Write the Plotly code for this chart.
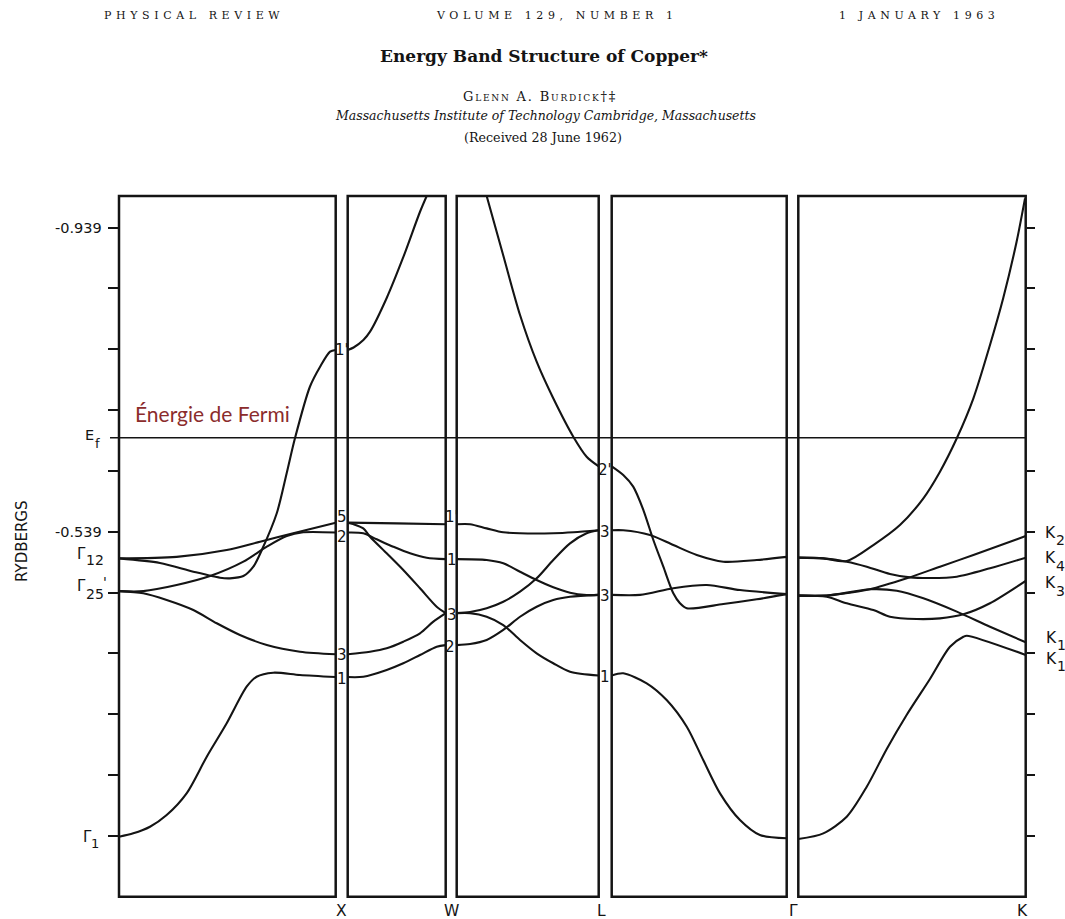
import plotly.graph_objects as go

W, H = 1065, 919

# ---------------- data (energies in Rydbergs, k = fraction along each segment) ----------------
Y_TICKS = [0.139, 0.219, 0.299, 0.379, 0.459, 0.539, 0.619, 0.699, 0.779, 0.859, 0.939]
E_FERMI = 0.6627
Y_RANGE = [0.0592, 0.9805]

# Gamma -> X
GX_K_A = [0, 0.266, 0.497, 0.651, 0.804, 1.0]
GX_E_A = [0.504, 0.506, 0.515, 0.526, 0.537, 0.551]
GX_K_B = [0, 0.189, 0.343, 0.466, 0.512, 0.574, 0.620, 0.659, 0.728, 0.774, 0.812, 0.881, 0.928, 0.974, 1.0]
GX_E_B = [0.504, 0.498, 0.4865, 0.4786, 0.4778, 0.4808, 0.4931, 0.515, 0.5633, 0.6163, 0.6619, 0.7297, 0.756, 0.7758, 0.778]
GX_K_C = [0, 0.112, 0.266, 0.420, 0.574, 0.682, 0.774, 0.850, 1.0]
GX_E_C = [0.461, 0.461, 0.469, 0.4808, 0.4997, 0.5194, 0.5334, 0.5383, 0.538]
GX_K_D = [0, 0.112, 0.220, 0.343, 0.451, 0.558, 0.682, 0.835, 1.0]
GX_E_D = [0.461, 0.4581, 0.4493, 0.4361, 0.4187, 0.4033, 0.3901, 0.3813, 0.378]
GX_K_E = [0, 0.066, 0.143, 0.220, 0.312, 0.405, 0.497, 0.589, 0.635, 0.712, 0.835, 1.0]
GX_E_E = [0.138, 0.1425, 0.1512, 0.1666, 0.1951, 0.2433, 0.2872, 0.3353, 0.3484, 0.3537, 0.3507, 0.348]

# X -> W
XW_K_1 = [0, 0.06, 0.16, 0.228, 0.398, 0.564, 0.738, 0.806]
XW_E_1 = [0.778, 0.7813, 0.7911, 0.8021, 0.8464, 0.899, 0.9598, 0.9805]
XW_K_2 = [0, 0.5, 1.0]
XW_E_2 = [0.551, 0.550, 0.549]
XW_K_3 = [0, 0.054, 0.159, 0.228, 0.398, 0.567, 0.738, 0.908, 1.0]
XW_E_3 = [0.551, 0.5492, 0.5435, 0.5325, 0.5107, 0.4887, 0.4647, 0.4405, 0.432]
XW_K_4 = [0, 0.159, 0.296, 0.465, 0.636, 0.806, 1.0]
XW_E_4 = [0.538, 0.537, 0.5291, 0.5194, 0.5107, 0.5049, 0.503]
XW_K_5 = [0, 0.228, 0.398, 0.567, 0.738, 0.874, 1.0]
XW_E_5 = [0.378, 0.3813, 0.3858, 0.3945, 0.4055, 0.4208, 0.432]
XW_K_6 = [0, 0.159, 0.398, 0.567, 0.738, 0.908, 1.0]
XW_E_6 = [0.348, 0.3484, 0.3573, 0.3661, 0.377, 0.3879, 0.390]

# W -> L
WL_K_1 = [0.211, 0.328, 0.446, 0.563, 0.680, 0.821, 0.915, 1.0]
WL_E_1 = [0.9805, 0.9022, 0.824, 0.7626, 0.7145, 0.664, 0.6377, 0.625]
WL_K_2 = [0, 0.094, 0.211, 0.328, 0.446, 0.681, 0.823, 1.0]
WL_E_2 = [0.549, 0.549, 0.5435, 0.5383, 0.537, 0.537, 0.5383, 0.541]
WL_K_3 = [0, 0.211, 0.328, 0.446, 0.563, 0.680, 0.798, 0.915, 1.0]
WL_E_3 = [0.503, 0.5019, 0.4976, 0.4865, 0.4756, 0.466, 0.4589, 0.4559, 0.456]
WL_K_4 = [0, 0.094, 0.211, 0.328, 0.446, 0.563, 0.680, 0.798, 0.915, 1.0]
WL_E_4 = [0.432, 0.4335, 0.4384, 0.447, 0.4602, 0.4778, 0.5019, 0.5238, 0.537, 0.541]
WL_K_5 = [0, 0.094, 0.211, 0.328, 0.446, 0.563, 0.680, 0.798, 1.0]
WL_E_5 = [0.432, 0.432, 0.4273, 0.4164, 0.3967, 0.3792, 0.3661, 0.355, 0.350]
WL_K_6 = [0, 0.094, 0.211, 0.328, 0.446, 0.563, 0.680, 0.798, 1.0]
WL_E_6 = [0.390, 0.3914, 0.3967, 0.4099, 0.4273, 0.4405, 0.4493, 0.4536, 0.456]

# L -> Gamma
LG_K_1 = [0, 0.066, 0.123, 0.181, 0.238, 0.295, 0.352, 0.390, 0.429, 0.638, 0.829, 1.0]
LG_E_1 = [0.625, 0.6136, 0.5983, 0.5676, 0.5282, 0.4931, 0.4581, 0.445, 0.4384, 0.444, 0.4502, 0.457]
LG_K_2 = [0, 0.066, 0.219, 0.352, 0.486, 0.638, 0.829, 1.0]
LG_E_2 = [0.541, 0.541, 0.5348, 0.5216, 0.5085, 0.4997, 0.5019, 0.506]
LG_K_3 = [0, 0.162, 0.352, 0.543, 0.733, 1.0]
LG_E_3 = [0.456, 0.456, 0.4647, 0.469, 0.4624, 0.457]
LG_K_4 = [0, 0.066, 0.2, 0.314, 0.429, 0.523, 0.619, 0.733, 0.847, 1.0]
LG_E_4 = [0.350, 0.3529, 0.3398, 0.3178, 0.2827, 0.2389, 0.1951, 0.160, 0.1403, 0.136]

# Gamma -> K
GK_K_1 = [0, 0.110, 0.213, 0.330, 0.447, 0.550, 0.623, 0.697, 0.770, 0.843, 0.901, 0.960, 0.997]
GK_E_1 = [0.505, 0.5041, 0.5006, 0.5216, 0.5479, 0.583, 0.618, 0.6619, 0.7145, 0.7846, 0.846, 0.9204, 0.9774]
GK_K_2 = [0, 0.110, 0.213, 0.301, 0.403, 0.491, 0.579, 0.697, 0.843, 1.0]
GK_E_2 = [0.505, 0.5041, 0.4997, 0.4931, 0.4835, 0.4791, 0.4782, 0.4799, 0.491, 0.505]
GK_K_3 = [0, 0.110, 0.183, 0.315, 0.477, 0.623, 0.770, 1.0]
GK_E_3 = [0.455, 0.455, 0.4572, 0.4634, 0.4778, 0.4931, 0.5085, 0.5334]
GK_K_4 = [0, 0.125, 0.315, 0.433, 0.550, 0.697, 0.843, 1.0]
GK_E_4 = [0.455, 0.455, 0.4634, 0.4615, 0.4515, 0.434, 0.4142, 0.3937]
GK_K_5 = [0, 0.125, 0.213, 0.330, 0.403, 0.521, 0.623, 0.726, 0.843, 1.0]
GK_E_5 = [0.455, 0.4536, 0.445, 0.4361, 0.4273, 0.4243, 0.4252, 0.4305, 0.445, 0.4743]
GK_K_6 = [0, 0.110, 0.213, 0.301, 0.389, 0.477, 0.579, 0.667, 0.726, 0.741, 1.0]
GK_E_6 = [0.135, 0.1425, 0.1644, 0.2038, 0.2535, 0.2985, 0.3455, 0.3879, 0.401, 0.4024, 0.377]

# symmetry-point labels
X_LABELS = ["1'", "5", "2", "3", "1"]
X_LABEL_E = [0.778, 0.558, 0.532, 0.377, 0.346]
W_LABELS = ["1'", "1", "3", "2'"]
W_LABEL_E = [0.559, 0.502, 0.430, 0.388]
L_LABELS = ["2'", "3", "3", "1"]
L_LABEL_E = [0.620, 0.539, 0.455, 0.348]
K_SUBS = ["2", "4", "3", "1", "1"]
TICK_TEXTS = ["-0.939", "-0.539"]
TICK_TEXT_E = [0.939, 0.539]
BOTTOM_LABELS = ["X", "W", "L", "Γ", "K"]

# ---------------- layout geometry ----------------
def pxx(x):
    return x / W

def pxy(y):
    return 1 - y / H

PANELS = [(119, 335.7), (347.7, 445.7), (456.7, 598.7), (611.7, 786.7), (798.3, 1025.7)]
AXES = ["x", "x2", "x3", "x4", "x5"]
BANDS = [
    [(GX_K_A, GX_E_A), (GX_K_B, GX_E_B), (GX_K_C, GX_E_C), (GX_K_D, GX_E_D), (GX_K_E, GX_E_E)],
    [(XW_K_1, XW_E_1), (XW_K_2, XW_E_2), (XW_K_3, XW_E_3), (XW_K_4, XW_E_4), (XW_K_5, XW_E_5), (XW_K_6, XW_E_6)],
    [(WL_K_1, WL_E_1), (WL_K_2, WL_E_2), (WL_K_3, WL_E_3), (WL_K_4, WL_E_4), (WL_K_5, WL_E_5), (WL_K_6, WL_E_6)],
    [(LG_K_1, LG_E_1), (LG_K_2, LG_E_2), (LG_K_3, LG_E_3), (LG_K_4, LG_E_4)],
    [(GK_K_1, GK_E_1), (GK_K_2, GK_E_2), (GK_K_3, GK_E_3), (GK_K_4, GK_E_4), (GK_K_5, GK_E_5), (GK_K_6, GK_E_6)],
]

INK = "#141414"
fig = go.Figure()
for ax, bands in zip(AXES, BANDS):
    for ks, es in bands:
        fig.add_trace(go.Scatter(
            x=ks, y=es, xaxis=ax, yaxis="y", mode="lines",
            line=dict(color=INK, width=2.1, shape="spline", smoothing=0.8),
            showlegend=False, hoverinfo="skip",
        ))
# invisible trace to host the right-hand tick axis
fig.add_trace(go.Scatter(x=[None], y=[None], xaxis="x5", yaxis="y2", showlegend=False))

ydom = [pxy(896.7), pxy(196)]
layout = dict(
    width=W, height=H, margin=dict(l=0, r=0, t=0, b=0),
    paper_bgcolor="white", plot_bgcolor="rgba(0,0,0,0)",
    yaxis=dict(domain=ydom, range=Y_RANGE, anchor="x", tickvals=Y_TICKS, ticks="outside",
               ticklen=10, tickwidth=1.8, tickcolor=INK, showticklabels=False,
               showgrid=False, zeroline=False, showline=False, fixedrange=True),
    yaxis2=dict(domain=ydom, range=Y_RANGE, anchor="x5", overlaying="y", side="right",
                tickvals=Y_TICKS, ticks="outside", ticklen=8, tickwidth=1.8, tickcolor=INK,
                showticklabels=False, showgrid=False, zeroline=False, showline=False),
)
for i, (ax, (x0, x1)) in enumerate(zip(AXES, PANELS)):
    key = "xaxis" if i == 0 else f"xaxis{i+1}"
    layout[key] = dict(domain=[pxx(x0), pxx(x1)], range=[0, 1], anchor="y",
                       showticklabels=False, ticks="", showgrid=False,
                       zeroline=False, showline=False, fixedrange=True)
fig.update_layout(**layout)

shapes = []
for ax in AXES:
    shapes.append(dict(type="rect", xref=f"{ax} domain", yref="y domain",
                       x0=0, x1=1, y0=0, y1=1, line=dict(color=INK, width=2.5)))
shapes.append(dict(type="line", xref="paper", yref="y", x0=pxx(110), x1=pxx(1026),
                   y0=E_FERMI, y1=E_FERMI, line=dict(color=INK, width=1.6)))
fig.update_layout(shapes=shapes)

ann = []

def lab(text, x, y, size=15, xanchor="left", yref="paper", family="DejaVu Sans", **kw):
    ann.append(dict(text=text, x=pxx(x), xref="paper", y=(y if yref == "y" else pxy(y)), yref=yref,
                    showarrow=False, xanchor=xanchor, yanchor="middle",
                    font=dict(family=family, size=size, color=INK), **kw))

# digit labels at the symmetry points (energy levels)
gaps = {"X": 341.7, "W": 451.5, "L": 605.0}
for name, labels, es in [("X", X_LABELS, X_LABEL_E), ("W", W_LABELS, W_LABEL_E), ("L", L_LABELS, L_LABEL_E)]:
    for t, e in zip(labels, es):
        lab(t, gaps[name], e, size=15, xanchor="center", yref="y")

# K labels (letter + subscript)
for sub, (yk, ys, xk) in zip(K_SUBS, [(533, 540, 1043), (558, 566, 1043), (583, 591, 1043),
                                      (637.5, 645, 1044), (659, 666, 1044)]):
    lab("K", xk, yk, size=15.5)
    lab(sub, xk + 10.5, ys, size=14)

# left axis labels
for t, e in zip(TICK_TEXTS, TICK_TEXT_E):
    lab(t, 104, e, size=14.5, xanchor="right", yref="y")
lab("E", 82.5, 435, size=14.5)
lab("f", 92.5, 443, size=13)
lab("Γ", 74.5, 553.5, size=15)
lab("12", 83.5, 560, size=14)
lab("Γ", 74.5, 586, size=15)
lab("25", 83.5, 594, size=14)
lab("'", 101, 582, size=14)
lab("Γ", 80.5, 837, size=15)
lab("1", 89, 843, size=13)

for t, xp in zip(BOTTOM_LABELS, [341.7, 451.7, 601, 793.5, 1022.5]):
    lab(t, xp, 911, size=15.5, xanchor="center")
ann.append(dict(text="RYDBERGS", x=pxx(22), xref="paper", y=pxy(541), yref="paper", textangle=-90,
                showarrow=False, xanchor="center", yanchor="middle",
                font=dict(family="DejaVu Sans", size=15, color=INK)))
ann.append(dict(text="Énergie de Fermi", x=pxx(133), xref="paper", y=pxy(428), yref="paper",
                showarrow=False, xanchor="left", yanchor="bottom",
                font=dict(family="Lato", size=21, color="#8B2C2C")))

SERIF = "DejaVu Serif"
def head(text, xc, yc, size, **kw):
    f = dict(family=SERIF, size=size, color=INK)
    f.update(kw)
    ann.append(dict(text=text, x=pxx(xc), xref="paper", y=pxy(yc), yref="paper",
                    showarrow=False, xanchor="center", yanchor="middle", font=f))

head('<span style="letter-spacing:4.6px">PHYSICAL REVIEW</span>', 194, 15.5, 11)
head('<span style="letter-spacing:4.6px">VOLUME 129, NUMBER 1</span>', 557, 15.5, 11)
head('<span style="letter-spacing:4.6px">1 JANUARY 1963</span>', 919, 15.5, 11)
head("<b>Energy Band Structure of Copper*</b>", 544, 56, 17)
head('<span style="letter-spacing:1.8px">Glenn A. Burdick†‡</span>', 540, 96, 13, variant="small-caps")
head("<i>Massachusetts Institute of Technology Cambridge, Massachusetts</i>", 545, 116, 12.5)
head("(Received 28 June 1962)", 543, 137, 12.7)

fig.update_layout(annotations=ann)
fig.write_html("out.html")
